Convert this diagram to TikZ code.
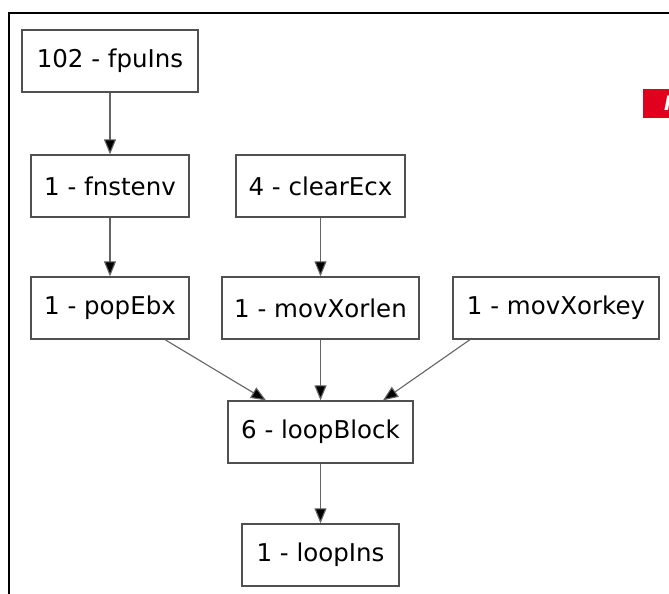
\documentclass[tikz,border=0pt]{standalone}
\usepackage{fontspec}
\setmainfont{DejaVu Sans}
\usetikzlibrary{arrows.meta}
\definecolor{boxline}{RGB}{80,80,80}
\definecolor{arrline}{RGB}{100,100,100}
\definecolor{redtag}{RGB}{225,0,30}
\tikzset{
  fn/.style={draw=boxline, line width=1.3pt, fill=white, rectangle, inner sep=0pt,
    font=\fontsize{24.5}{28}\selectfont, minimum height=62pt},
  conn/.style={draw=arrline, line width=1.1pt, -{Triangle[length=15pt,width=12pt,fill=black]}}
}
\begin{document}
\begin{tikzpicture}[x=1pt,y=-1pt]
\useasboundingbox (0,0) rectangle (669,594);
\fill[white] (0,0) rectangle (669,594);
\draw[line width=2pt] (9,620) -- (9,13) -- (690,13);
\fill[redtag] (643,89) rectangle (690,118);
\node[anchor=west, text=white, font=\bfseries\itshape\fontsize{20}{24}\selectfont, inner sep=0pt] (tag) at (664,103) {M};

\node[fn, minimum width=176pt] (fpu) at (110,61) {102 - fpuIns};
\node[fn, minimum width=158pt] (fns) at (110,186) {1 - fnstenv};
\node[fn, minimum width=169pt] (clr) at (320.5,186) {4 - clearEcx};
\node[fn, minimum width=158pt] (pop) at (110,308) {1 - popEbx};
\node[fn, minimum width=197pt] (mxl) at (320.5,308) {1 - movXorlen};
\node[fn, minimum width=206pt] (mxk) at (556,308) {1 - movXorkey};
\node[fn, minimum width=185pt] (lb) at (320.5,432) {6 - loopBlock};
\node[fn, minimum width=157pt] (li) at (320.5,555) {1 - loopIns};

\draw[conn] (fpu.south) -- (fns.north);
\draw[conn] (fns.south) -- (pop.north);
\draw[conn] (clr.south) -- (mxl.north);
\draw[conn] (pop.south -| 165,0) -- (lb.north -| 266,0);
\draw[conn] (mxl.south) -- (lb.north);
\draw[conn] (mxk.south -| 470,0) -- (lb.north -| 383,0);
\draw[conn] (lb.south) -- (li.north);
\end{tikzpicture}
\end{document}
